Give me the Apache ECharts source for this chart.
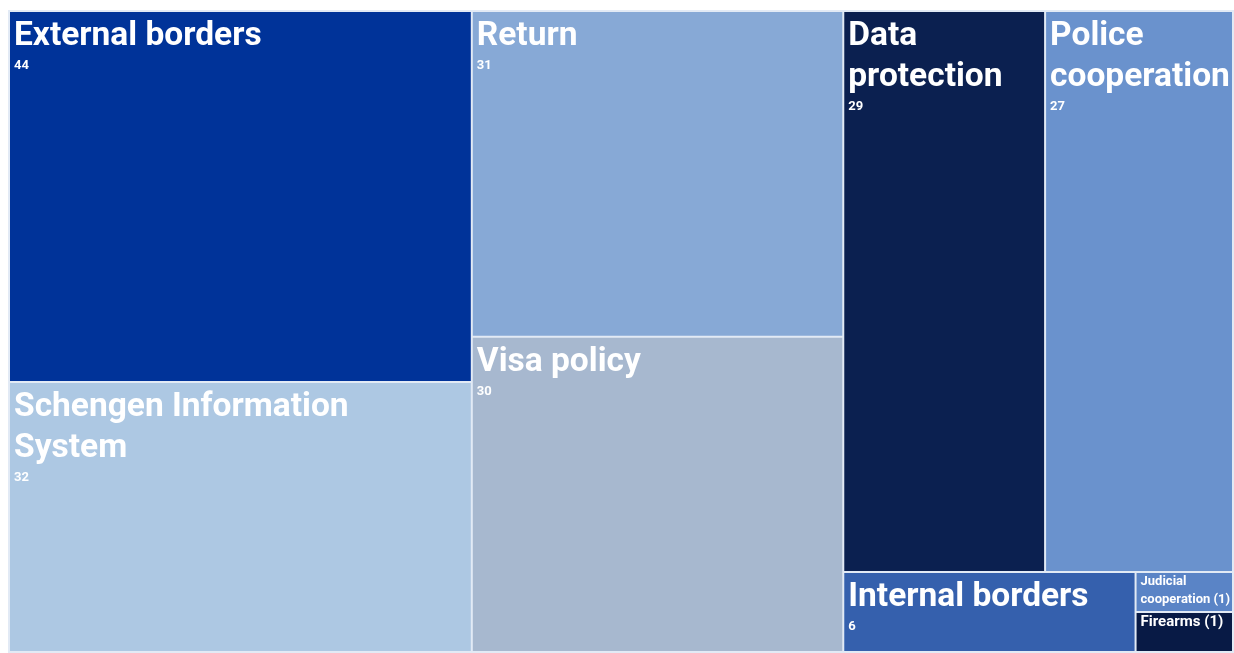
<!DOCTYPE html>
<html>
<head>
<meta charset="utf-8">
<script src="https://cdn.jsdelivr.net/npm/echarts@6/dist/echarts.min.js"></script>
<style>
  html, body { margin: 0; padding: 0; background: #fff; }
  #chart { width: 1234px; height: 653px; }
</style>
</head>
<body>
<div id="chart"></div>
<script>
// ties are laid out by dataIndex descending, so Firearms comes before Judicial here
const names = [
  "External borders",
  "Schengen Information System",
  "Return",
  "Visa policy",
  "Data protection",
  "Police cooperation",
  "Internal borders",
  "Firearms",
  "Judicial cooperation"
];
const values = [44, 32, 31, 30, 29, 27, 6, 1, 1];
const colors = [
  "#003399", "#adc8e3", "#87a9d6", "#a7b8cf", "#0b2050",
  "#6a92cd", "#3560ad", "#081a45", "#5a84c6"
];
// where the labels wrap
const wrapped = {
  "Schengen Information System": ["Schengen Information", "System"],
  "Data protection": ["Data", "protection"],
  "Police cooperation": ["Police", "cooperation"],
  "Judicial cooperation": ["Judicial", "cooperation"]
};

function lines(name) {
  return (wrapped[name] || [name]).slice();
}

const chart = echarts.init(document.getElementById("chart"));

const data = names.map((name, i) => {
  const item = {
    name,
    value: values[i],
    itemStyle: { color: colors[i] }
  };
  if (values[i] < 2) {
    // tiny tiles: "name (value)" vertically centred
    item.label = {
      position: "insideLeft",
      padding: [0, 4],
      formatter: (p) => {
        const l = lines(p.name);
        l[l.length - 1] += " (" + p.value + ")";
        return l.map((t) => "{s|" + t + "}").join("\n");
      },
      rich: {
        s: {
          fontFamily: "Roboto",
          fontWeight: "bold",
          fontSize: name === "Firearms" ? 15 : 13,
          lineHeight: 18,
          color: "#fff"
        }
      }
    };
  }
  return item;
});

let option = {
  animation: false,
  series: [
    {
      type: "treemap",
      left: 8,
      top: 10,
      right: 0,
      bottom: 0,
      roam: false,
      nodeClick: false,
      breadcrumb: { show: false },
      itemStyle: {
        borderColor: "#e2eaf5",
        borderWidth: 1,
        gapWidth: 0
      },
      label: {
        show: true,
        position: "insideTopLeft",
        padding: [4, 4],
        overflow: "none",
        formatter: (p) =>
          lines(p.name).map((t) => "{n|" + t + "}").join("\n") +
          "\n{v|" + p.value + "}",
        rich: {
          n: {
            fontFamily: "Roboto",
            fontWeight: "bold",
            fontSize: 33.5,
            lineHeight: 41,
            color: "#fff"
          },
          v: {
            fontFamily: "Roboto",
            fontWeight: "bold",
            fontSize: 13,
            lineHeight: 17,
            color: "#fff"
          }
        }
      },
      data: data
    }
  ]
};

chart.setOption(option);
</script>
</body>
</html>
